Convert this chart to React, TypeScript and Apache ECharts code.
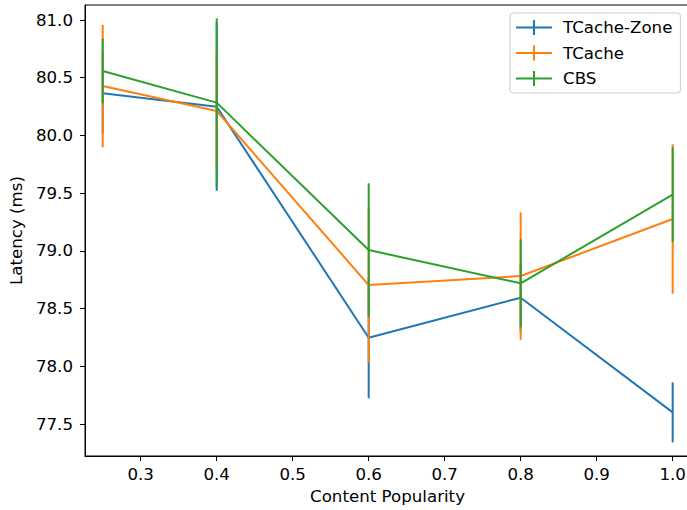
import React, { useEffect, useRef } from "react";
import * as echarts from "echarts";

const popularity = [0.25, 0.4, 0.6, 0.8, 1.0];
const zoneMean = [80.365, 80.249, 78.248, 78.594, 77.601];
const zoneErr = [0.35, 0.728, 0.525, 0.3, 0.26];
const tcacheMean = [80.428, 80.212, 78.704, 78.782, 79.276];
const tcacheErr = [0.53, 0.5, 0.673, 0.552, 0.647];
const cbsMean = [80.558, 80.284, 79.007, 78.719, 79.487];
const cbsErr = [0.28, 0.73, 0.578, 0.381, 0.41];

const xTicks = [0.3, 0.4, 0.5, 0.6, 0.7, 0.8, 0.9, 1.0];
const yTicks = [77.5, 78.0, 78.5, 79.0, 79.5, 80.0, 80.5, 81.0];

const seriesDefs = [
  { name: "TCache-Zone", mean: zoneMean, err: zoneErr, color: "#1f77b4" },
  { name: "TCache", mean: tcacheMean, err: tcacheErr, color: "#ff7f0e" },
  { name: "CBS", mean: cbsMean, err: cbsErr, color: "#2ca02c" },
];

const FONT = "DejaVu Sans";
const FS = 16.67;

export default function App() {
  const ref = useRef<HTMLDivElement>(null);
  useEffect(() => {
    if (!ref.current) return;
    const chart = echarts.init(ref.current, null, { renderer: "svg" });
    const series: any[] = [];
    seriesDefs.forEach((s, i) => {
      series.push({
        name: s.name,
        type: "line",
        data: popularity.map((x, k) => [x, s.mean[k]]),
        symbol: "none",
        lineStyle: { color: s.color, width: 2 },
        itemStyle: { color: s.color },
        z: 2 + i * 2,
      });
      series.push({
        name: s.name,
        type: "custom",
        data: popularity.map((x, k) => [x, s.mean[k], s.err[k]]),
        z: 3 + i * 2,
        renderItem: (params: any, api: any) => {
          const x = api.value(0);
          const y = api.value(1);
          const e = api.value(2);
          const p1 = api.coord([x, y + e]);
          const p2 = api.coord([x, y - e]);
          return {
            type: "line",
            shape: { x1: p1[0], y1: p1[1], x2: p2[0], y2: p2[1] },
            style: { stroke: s.color, lineWidth: 2 },
          };
        },
      });
    });
    chart.setOption({
      animation: false,
      backgroundColor: "#ffffff",
      grid: {
        left: 85,
        top: 5,
        width: 605,
        height: 451,
        show: true,
        borderColor: "#000",
        borderWidth: 1,
        containLabel: false,
      },
      legend: {
        orient: "vertical",
        left: 510,
        top: 13,
        data: seriesDefs.map((s) => ({
          name: s.name,
          icon: "path://M0,6.5H36V8.5H0Z M17,0H19V15H17Z",
        })),
        itemWidth: 36,
        itemHeight: 15,
        itemGap: 8.5,
        padding: [6, 8, 6, 6],
        backgroundColor: "rgba(255,255,255,0.8)",
        borderColor: "#cccccc",
        borderWidth: 1,
        borderRadius: 3,
        textStyle: {
          fontFamily: FONT,
          fontSize: FS,
          color: "#000",
          padding: [0, 0, 0, 6],
        },
        selectedMode: false,
      },
      xAxis: {
        type: "value",
        min: 0.2267,
        max: 1.0228,
        name: "Content Popularity",
        nameLocation: "middle",
        nameGap: 32,
        nameTextStyle: { fontFamily: FONT, fontSize: FS, color: "#000" },
        axisLine: { show: true, lineStyle: { color: "#000", width: 1 } },
        axisTick: {
          show: true,
          length: 5,
          lineStyle: { color: "#000", width: 1 },
          customValues: xTicks,
        },
        axisLabel: {
          fontFamily: FONT,
          fontSize: FS,
          color: "#000",
          margin: 10,
          customValues: xTicks,
          formatter: (v: number) => v.toFixed(1),
        },
        splitLine: { show: false },
      },
      yAxis: {
        type: "value",
        min: 77.223,
        max: 81.13,
        name: "Latency (ms)",
        nameLocation: "middle",
        nameGap: 56,
        nameTextStyle: { fontFamily: FONT, fontSize: FS, color: "#000" },
        axisLine: { show: true, lineStyle: { color: "#000", width: 1 } },
        axisTick: {
          show: true,
          length: 5,
          lineStyle: { color: "#000", width: 1 },
          customValues: yTicks,
        },
        axisLabel: {
          fontFamily: FONT,
          fontSize: FS,
          color: "#000",
          margin: 12,
          customValues: yTicks,
          formatter: (v: number) => v.toFixed(1),
        },
        splitLine: { show: false },
      },
      series,
    });
    return () => chart.dispose();
  }, []);
  return (
    <div
      ref={ref}
      style={{ position: "fixed", left: 0, top: 0, width: 700, height: 510 }}
    />
  );
}
